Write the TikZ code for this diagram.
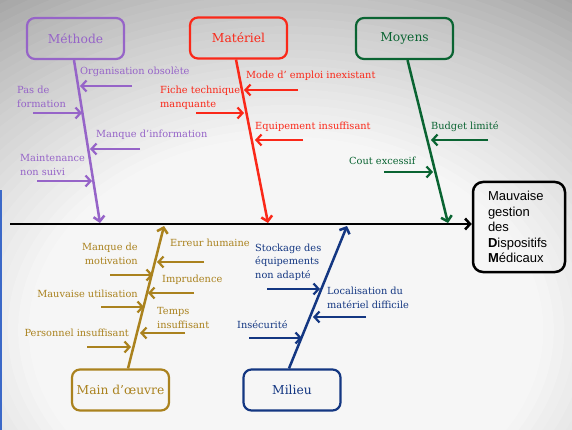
\documentclass[tikz,border=0pt]{standalone}
\usepackage{fontspec}
\setmainfont{DejaVu Serif}
\newfontfamily\effectfont{Liberation Sans}
\usepackage{tikz}
\usetikzlibrary{arrows.meta, positioning, calc}

\definecolor{methodc}{RGB}{150,100,200}
\definecolor{materialc}{RGB}{250,40,25}
\definecolor{meansc}{RGB}{10,100,50}
\definecolor{workc}{RGB}{170,130,30}
\definecolor{envc}{RGB}{20,55,130}
\definecolor{bglight}{RGB}{246,246,246}
\definecolor{bgdark}{RGB}{138,138,138}
\definecolor{edgeblue}{RGB}{60,105,200}

\tikzstyle{category} = [rectangle, rounded corners=8pt, line width=2.2pt, minimum width=97pt, minimum height=41pt, font=\fontsize{12.3}{15}\selectfont]
\tikzstyle{effectbox} = [rectangle, rounded corners=10pt, line width=2.5pt, draw=black, minimum width=92pt, minimum height=90pt, align=left, text width=62pt, font=\effectfont\fontsize{13}{15.5}\selectfont]
\tikzstyle{bone} = [line width=2.5pt, -{Straight Barb[length=5pt,width=11pt]}]
\tikzstyle{arrow} = [line width=2.2pt, -{Straight Barb[length=5pt,width=11pt]}]
\tikzstyle{causetext} = [inner sep=0pt, font=\fontsize{9.8}{13.5}\selectfont]

\begin{document}
\begin{tikzpicture}[x=1pt, y=-1pt]

% Background
\fill[bgdark] (0,0) rectangle (572,430);
\begin{scope}
\clip (0,0) rectangle (572,430);
\foreach \k in {0,...,30} {
  \pgfmathsetmacro\p{100*(\k/30)^0.7}
  \pgfmathsetmacro\d{100-\k*55/30}
  \fill[bglight!\p!bgdark] (286,330) ellipse ({\d*5.72} and {\d*4.3});
}
\end{scope}
\fill[edgeblue] (0,190) rectangle (2,430);
\useasboundingbox (0,0) rectangle (572,430);

% Effect
\node (effect) [effectbox] at (519,227) {Mauvaise\\gestion\\des\\\textbf{D}ispositifs\\\textbf{M}édicaux};
\coordinate (spine) at (10,224);
\draw [line width=2.5pt, -{Straight Barb[length=5pt,width=11pt]}] (spine) -- (spine -| effect.west);

% Methode
\node (methode) [category, draw=methodc, text=methodc] at (75.5,38.5) {Méthode};
\coordinate (methode-end) at (100,223);
\draw [bone, methodc] ([xshift=-1.5pt]methode.south) -- (methode-end);
\node (m1) [causetext, anchor=west, text=methodc] at (80,72) {Organisation obsolète};
\node (m2) [causetext, anchor=west, align=left, text=methodc] at (17,97) {Pas de\\formation};
\node (m3) [causetext, anchor=west, text=methodc] at (96,135) {Manque d’information};
\node (m4) [causetext, anchor=west, align=left, text=methodc] at (20,165) {Maintenance\\non suivi};
\coordinate (m1a) at (132,86);  \coordinate (m1b) at (80,86);
\coordinate (m2a) at (33,113);  \coordinate (m2b) at (82,113);
\coordinate (m3a) at (140,149); \coordinate (m3b) at (90,149);
\coordinate (m4a) at (37,181);  \coordinate (m4b) at (92,181);
\draw [arrow, methodc] (m1a) -- (m1b);
\draw [arrow, methodc] (m2a) -- (m2b);
\draw [arrow, methodc] (m3a) -- (m3b);
\draw [arrow, methodc] (m4a) -- (m4b);

% Materiel
\node (materiel) [category, draw=materialc, text=materialc] at (238.5,38) {Matériel};
\coordinate (materiel-end) at (268,223);
\draw [bone, materialc] ([xshift=-2.5pt]materiel.south) -- (materiel-end);
\node (r1) [causetext, anchor=west, text=materialc] at (246,76) {Mode d’ emploi inexistant};
\node (r2) [causetext, anchor=west, align=left, text=materialc] at (160,98) {Fiche technique\\manquante};
\node (r3) [causetext, anchor=west, text=materialc] at (255,127) {Equipement insuffisant};
\coordinate (r1a) at (298,90);  \coordinate (r1b) at (244,90);
\coordinate (r2a) at (196,113); \coordinate (r2b) at (244,113);
\coordinate (r3a) at (303,140); \coordinate (r3b) at (255,140);
\draw [arrow, materialc] (r1a) -- (r1b);
\draw [arrow, materialc] (r2a) -- (r2b);
\draw [arrow, materialc] (r3a) -- (r3b);

% Moyens
\node (moyens) [category, draw=meansc, text=meansc] at (404.5,38.5) {Moyens};
\coordinate (moyens-end) at (448,223);
\draw [bone, meansc] ([xshift=3pt]moyens.south) -- (moyens-end);
\node (g1) [causetext, anchor=west, text=meansc] at (431,127) {Budget limité};
\node (g2) [causetext, anchor=west, text=meansc] at (349,161) {Cout excessif};
\coordinate (g1a) at (488,140); \coordinate (g1b) at (431,140);
\coordinate (g2a) at (384,172); \coordinate (g2b) at (433,172);
\draw [arrow, meansc] (g1a) -- (g1b);
\draw [arrow, meansc] (g2a) -- (g2b);

% Main d'oeuvre
\node (oeuvre) [category, draw=workc, text=workc] at (120.5,390) {Main d’œuvre};
\coordinate (oeuvre-end) at (164,226);
\draw [bone, workc] ([xshift=7.5pt]oeuvre.north) -- (oeuvre-end);
\node (w1) [causetext, anchor=west, text=workc] at (170,243) {Erreur humaine};
\node (w2) [causetext, anchor=east, align=right, text=workc] at (138,254) {Manque de\\motivation};
\node (w3) [causetext, anchor=west, text=workc] at (162,280) {Imprudence};
\node (w4) [causetext, anchor=east, text=workc] at (138,294) {Mauvaise utilisation};
\node (w5) [causetext, anchor=west, align=left, text=workc] at (157,318) {Temps\\insuffisant};
\node (w6) [causetext, anchor=east, text=workc] at (129,333) {Personnel insuffisant};
\coordinate (w1a) at (204,262); \coordinate (w1b) at (157,262);
\coordinate (w2a) at (110,275); \coordinate (w2b) at (153,275);
\coordinate (w3a) at (194,293); \coordinate (w3b) at (148,293);
\coordinate (w4a) at (101,307); \coordinate (w4b) at (144,307);
\coordinate (w5a) at (185,333); \coordinate (w5b) at (140,333);
\coordinate (w6a) at (87,347);  \coordinate (w6b) at (131,347);
\draw [arrow, workc] (w1a) -- (w1b);
\draw [arrow, workc] (w2a) -- (w2b);
\draw [arrow, workc] (w3a) -- (w3b);
\draw [arrow, workc] (w4a) -- (w4b);
\draw [arrow, workc] (w5a) -- (w5b);
\draw [arrow, workc] (w6a) -- (w6b);

% Milieu
\node (milieu) [category, draw=envc, text=envc] at (292,390) {Milieu};
\coordinate (milieu-end) at (347,226);
\draw [bone, envc] ([xshift=-3pt]milieu.north) -- (milieu-end);
\node (e1) [causetext, anchor=west, align=left, text=envc] at (255,262) {Stockage des\\équipements\\non adapté};
\node (e2) [causetext, anchor=west, align=left, text=envc] at (327,298) {Localisation du\\matériel difficile};
\node (e3) [causetext, anchor=west, text=envc] at (237,325) {Insécurité};
\coordinate (e1a) at (267,289); \coordinate (e1b) at (320,289);
\coordinate (e2a) at (366,317); \coordinate (e2b) at (313,317);
\coordinate (e3a) at (249,338); \coordinate (e3b) at (302,338);
\draw [arrow, envc] (e1a) -- (e1b);
\draw [arrow, envc] (e2a) -- (e2b);
\draw [arrow, envc] (e3a) -- (e3b);

\end{tikzpicture}
\end{document}
